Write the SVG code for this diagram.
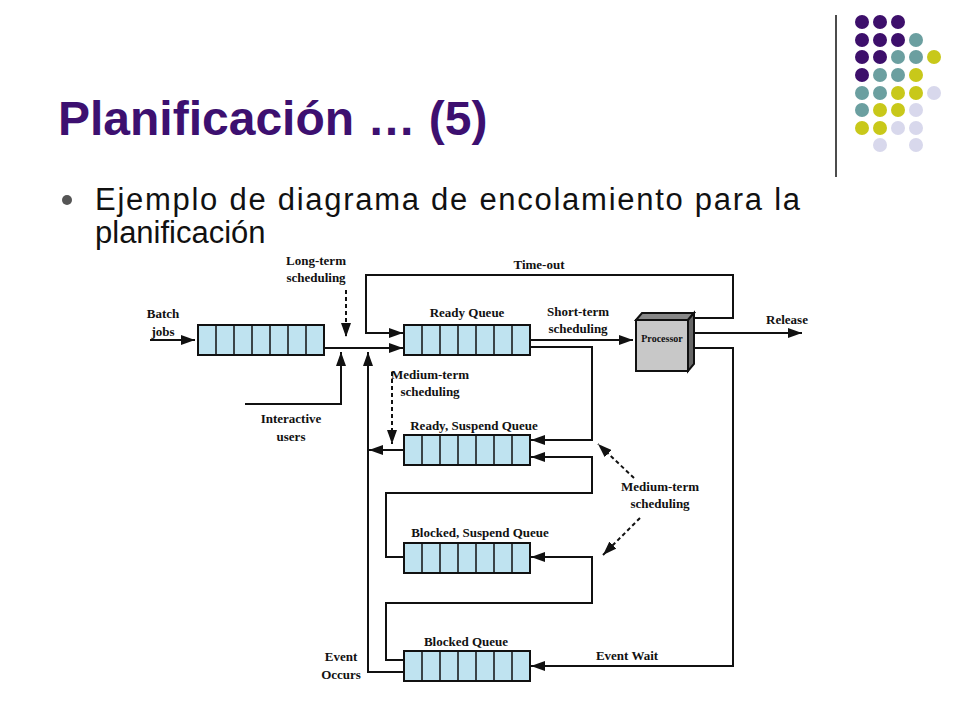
<svg xmlns="http://www.w3.org/2000/svg" width="960" height="720" viewBox="0 0 960 720">
<style>
.q{fill:#bfe3f0;stroke:#111;stroke-width:2}
.c{stroke:#111;stroke-width:1.5}
.l{fill:none;stroke:#111;stroke-width:2}
.d{fill:none;stroke:#111;stroke-width:2;stroke-dasharray:4 3}
.t{font-family:"Liberation Serif",serif;font-weight:bold;font-size:13px;fill:#111;text-anchor:middle}
</style>
<defs>
<marker id="a" viewBox="0 0 14 10" refX="14" refY="5" markerWidth="14" markerHeight="10" markerUnits="userSpaceOnUse" orient="auto"><path d="M0,0L14,5L0,10z" fill="#111"/></marker>
<g id="qq"><rect class="q" x="0" y="0" width="126" height="30"/><path class="c" d="M18,0v30M36,0v30M54,0v30M72,0v30M90,0v30M108,0v30"/></g>
</defs>
<rect width="960" height="720" fill="#fff"/>
<g id="deco">
<line x1="836" y1="15" x2="836" y2="177" stroke="#111" stroke-width="1.5"/>
<g fill="#3d0f6b"><circle cx="862" cy="22" r="7"/><circle cx="880" cy="22" r="7"/><circle cx="898" cy="22" r="7"/><circle cx="862" cy="40" r="7"/><circle cx="880" cy="40" r="7"/><circle cx="898" cy="40" r="7"/><circle cx="862" cy="57" r="7"/><circle cx="880" cy="57" r="7"/><circle cx="862" cy="75" r="7"/></g>
<g fill="#6b9fa0"><circle cx="916" cy="40" r="7"/><circle cx="898" cy="57" r="7"/><circle cx="916" cy="57" r="7"/><circle cx="880" cy="75" r="7"/><circle cx="898" cy="75" r="7"/><circle cx="862" cy="93" r="7"/><circle cx="880" cy="93" r="7"/><circle cx="862" cy="110" r="7"/></g>
<g fill="#c8c81a"><circle cx="934" cy="57" r="7"/><circle cx="916" cy="75" r="7"/><circle cx="898" cy="93" r="7"/><circle cx="916" cy="93" r="7"/><circle cx="880" cy="110" r="7"/><circle cx="898" cy="110" r="7"/><circle cx="862" cy="128" r="7"/><circle cx="880" cy="128" r="7"/></g>
<g fill="#d8d8ec"><circle cx="934" cy="93" r="7"/><circle cx="916" cy="110" r="7"/><circle cx="898" cy="128" r="7"/><circle cx="916" cy="128" r="7"/><circle cx="880" cy="145" r="7"/><circle cx="916" cy="145" r="7"/></g>
</g>
<text x="58" y="135" font-family="Liberation Sans,Arial,sans-serif" font-weight="bold" font-size="48" fill="#3d1070">Planificación … (5)</text>
<circle cx="67" cy="200" r="5" fill="#555"/>
<text font-family="Liberation Sans,Arial,sans-serif" font-size="31" fill="#111"><tspan x="95" y="210" textLength="705" lengthAdjust="spacing">Ejemplo de diagrama de encolamiento para la</tspan><tspan x="95" y="243">planificación</tspan></text>

<g id="connectors">
<path class="l" d="M150,340H195" marker-end="url(#a)"/>
<path class="l" d="M324,348H403" marker-end="url(#a)"/>
<path class="d" d="M346,290V337" marker-end="url(#a)"/>
<path class="l" d="M245,404H341V352" marker-end="url(#a)"/>
<path class="l" d="M404,672H368V352" marker-end="url(#a)"/>
<path class="l" d="M693,318H733V275H366V333H403" marker-end="url(#a)"/>
<path class="l" d="M530,340H633" marker-end="url(#a)"/>
<path class="l" d="M530,347H592V440H531" marker-end="url(#a)"/>
<path class="l" d="M404,557H386V493H592V457H531" marker-end="url(#a)"/>
<path class="l" d="M404,660H386V603H592V557H531" marker-end="url(#a)"/>
<path class="l" d="M404,450H369" marker-end="url(#a)"/>
<path class="d" d="M392,372V444" marker-end="url(#a)"/>
<path class="l" d="M693,333H802" marker-end="url(#a)"/>
<path class="l" d="M693,348H733V666H531" marker-end="url(#a)"/>
<path class="d" d="M634,478L598,444" marker-end="url(#a)"/>
<path class="d" d="M640,518L603,555" marker-end="url(#a)"/>
</g>
<g id="batch"><use href="#qq" x="198" y="325"/></g>
<g id="ready"><use href="#qq" x="404" y="325"/></g>
<g id="readysusp"><use href="#qq" x="404" y="435"/></g>
<g id="blockedsusp"><use href="#qq" x="404" y="543"/></g>
<g id="blocked"><use href="#qq" x="404" y="651"/></g>
<g id="processor">
<path d="M636,320L642,313H694L688,320z" fill="#888" stroke="#111" stroke-width="2"/>
<path d="M688,320L694,313V364L688,371z" fill="#666" stroke="#111" stroke-width="2"/>
<rect x="636" y="320" width="52" height="51" fill="#c8c8c8" stroke="#111" stroke-width="2"/>
<text class="t" x="662" y="342" style="font-size:10px">Processor</text>
</g>
<g id="labels">
<text class="t" x="539" y="269">Time-out</text>
<text class="t" x="578" y="316">Short-term</text><text class="t" x="578" y="333">scheduling</text>
<text class="t" x="787" y="324">Release</text>
<text class="t" x="163" y="318">Batch</text><text class="t" x="163" y="336">jobs</text>
<text class="t" x="316" y="265">Long-term</text><text class="t" x="316" y="282">scheduling</text>
<text class="t" x="291" y="423">Interactive</text><text class="t" x="291" y="441">users</text>
<text class="t" x="430" y="379">Medium-term</text><text class="t" x="430" y="396">scheduling</text>
<text class="t" x="467" y="317">Ready Queue</text>
<text class="t" x="474" y="430">Ready, Suspend Queue</text>
<text class="t" x="660" y="491">Medium-term</text><text class="t" x="660" y="508">scheduling</text>
<text class="t" x="480" y="537">Blocked, Suspend Queue</text>
<text class="t" x="466" y="646">Blocked Queue</text>
<text class="t" x="627" y="660">Event Wait</text>
<text class="t" x="341" y="661">Event</text><text class="t" x="341" y="679">Occurs</text>
</g>
</svg>
